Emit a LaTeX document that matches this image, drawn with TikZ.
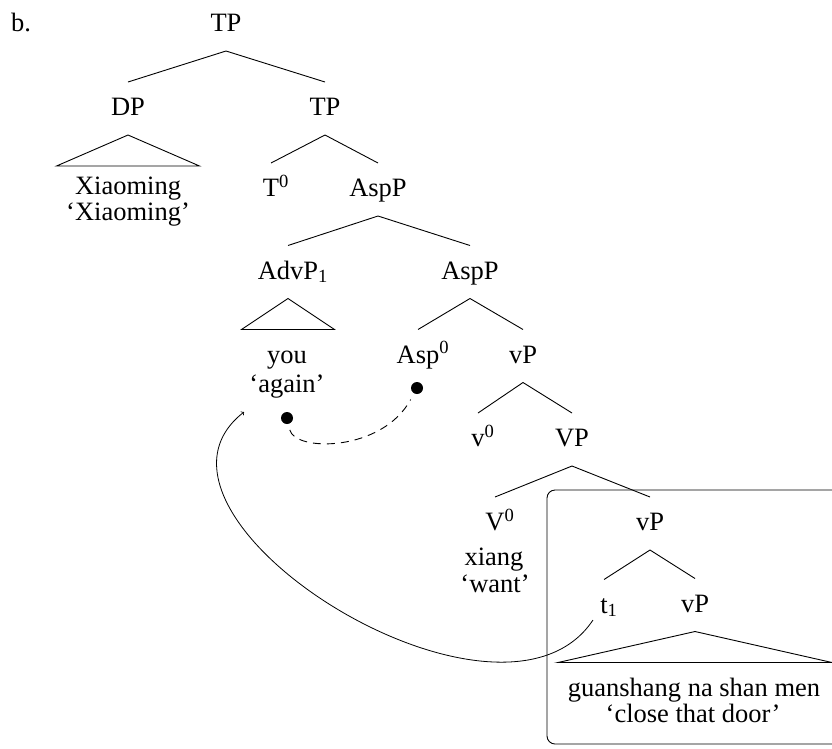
\documentclass[tikz,border=0pt]{standalone}
\usepackage{fontspec}
\setmainfont{Liberation Serif}
\usetikzlibrary{calc}

\tikzset{
  lbl/.style={anchor=base, inner sep=0pt, outer sep=0pt},
  branchline/.style={line width=0.9pt},
  dotmark/.style={circle, fill=black, inner sep=0pt, minimum size=12pt},
  movepath/.style={line width=0.8pt, ->, >=to},
  linkpath/.style={line width=0.9pt, dash pattern=on 8pt off 6pt},
}
% branch from a mother label down to a daughter label
\newcommand\treeedge[2]{\draw[branchline] ($(#1.base)+(0,19.5)$) -- ($(#2.base)+(0,-33.5)$);}
% roof (triangle) under a label, given its half width
\newcommand\rooftri[2]{\draw[branchline] ($(#1.base)+(0,19.5)$) -- ++(-#2,31) -- ++(2*#2,0) -- cycle;}

\begin{document}
\begin{tikzpicture}[x=1pt, y=-1pt, font=\fontsize{26.5}{30}\selectfont]
\useasboundingbox (0,0) rectangle (832,748);

% boxed embedded vP
\begin{scope}
  \clip (0,0) rectangle (832,748);
  \draw[branchline, rounded corners=8] (547,490) rectangle (870,744);
\end{scope}

\node[lbl, anchor=base west] (ex) at (11,31.5) {b.};

\node[lbl] (tp0) at (226,31.5) {TP};
\node[lbl] (dp) at (128,115.5) {DP};
\node[lbl] (tp1) at (325,115.5) {TP};
\node[lbl] (xm) at (128,194) {Xiaoming};
\node[lbl] (xmg) at (128,220) {`Xiaoming'};
\node[lbl] (t0) at (271,196.5) {T\rlap{\textsuperscript{0}}};
\node[lbl] (asp1) at (378,196.5) {AspP};
\node[lbl] (advp) at (288,279) {AdvP\rlap{\textsubscript{1}}};
\node[lbl] (asp2) at (470,279) {AspP};
\node[lbl] (you) at (287,363) {you};
\node[lbl] (again) at (287,392) {`again'};
\node[lbl] (asp0) at (418,363) {Asp\rlap{\textsuperscript{0}}};
\node[lbl] (vp1) at (523,363) {vP};
\node[lbl] (v0) at (478,446.5) {v\rlap{\textsuperscript{0}}};
\node[lbl] (bigvp) at (572,446.5) {VP};
\node[lbl] (bigv0) at (495,530.5) {V\rlap{\textsuperscript{0}}};
\node[lbl] (xiang) at (494,565) {xiang};
\node[lbl] (want) at (495,592) {`want'};
\node[lbl] (vp2) at (650,530.5) {vP};
\node[lbl] (t1) at (604,613) {t\rlap{\textsubscript{1}}};
\node[lbl] (vp3) at (695,612) {vP};
\node[lbl] (gsh) at (694,696) {guanshang na shan men};
\node[lbl] (ctd) at (693,722) {`close that door'};

\treeedge{tp0}{dp}
\treeedge{tp0}{tp1}
\treeedge{tp1}{t0}
\treeedge{tp1}{asp1}
\treeedge{asp1}{advp}
\treeedge{asp1}{asp2}
\treeedge{asp2}{asp0}
\treeedge{asp2}{vp1}
\treeedge{vp1}{v0}
\treeedge{vp1}{bigvp}
\treeedge{bigvp}{bigv0}
\treeedge{bigvp}{vp2}
\treeedge{vp2}{t1}
\treeedge{vp2}{vp3}

\rooftri{dp}{71.5}
\rooftri{advp}{46.5}
\rooftri{vp3}{137}

% dependency between the adverb and Asp
\node[dotmark] (dyou) at (287,418) {};
\node[dotmark] (dasp) at (417,388) {};
\draw[linkpath, shorten <=6pt, shorten >=7pt] (dyou) .. controls (295,452) and (382,452) .. (dasp);

% movement of the adverb out of the boxed vP
\coordinate (movetip) at (244,412);
\draw[movepath] ($(t1.base)+(-11,7)$) .. controls (500,760) and (112,515) .. (movetip);
\end{tikzpicture}
\end{document}
